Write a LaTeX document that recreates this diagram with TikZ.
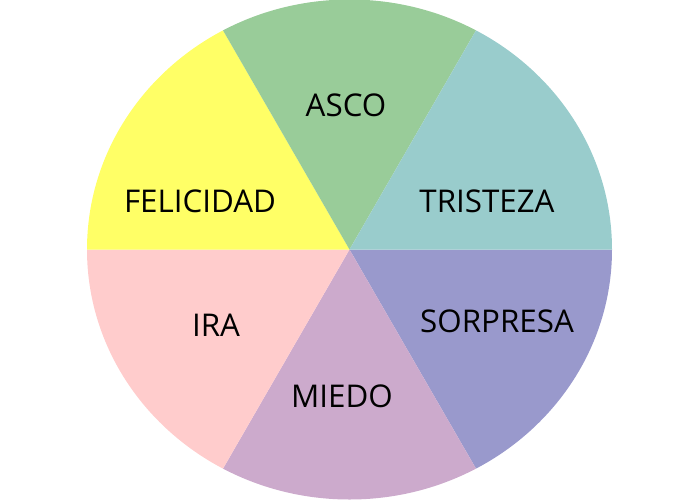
\documentclass[tikz,border=0pt]{standalone}
\usepackage{fontspec}
\setmainfont{Open Sans}
\definecolor{cyellow}{HTML}{FFFF66}
\definecolor{cgreen}{HTML}{99CC99}
\definecolor{cteal}{HTML}{99CCCC}
\definecolor{cblue}{HTML}{9999CC}
\definecolor{cmauve}{HTML}{CCAACC}
\definecolor{cpink}{HTML}{FFCCCC}
\tikzset{lbl/.style={font=\fontsize{23.5}{26}\selectfont, text=black, inner sep=0pt}}
\begin{document}
\begin{tikzpicture}[x=0.75pt,y=-0.75pt]
\useasboundingbox (0,0) rectangle (700,500);
\coordinate (c) at (349.5,249.5);
\begin{scope}
\clip (c) ellipse [x radius=262.5, y radius=250];
\fill[cblue]  (c) -- +(0:600)   -- +(60:600)  -- cycle;
\fill[cmauve] (c) -- +(60:600)  -- +(120:600) -- cycle;
\fill[cpink]  (c) -- +(120:600) -- +(180:600) -- cycle;
\fill[cyellow](c) -- +(180:600) -- +(240:600) -- cycle;
\fill[cgreen] (c) -- +(240:600) -- +(300:600) -- cycle;
\fill[cteal]  (c) -- +(300:600) -- +(360:600) -- cycle;
\end{scope}
\node[lbl] (asco) at (346,105) {ASCO};
\node[lbl] (tristeza) at (487,201) {TRISTEZA};
\node[lbl] (felicidad) at (200,201) {FELICIDAD};
\node[lbl] (ira) at (216,325) {IRA};
\node[lbl] (sorpresa) at (497,321) {SORPRESA};
\node[lbl] (miedo) at (342,396) {MIEDO};
\end{tikzpicture}
\end{document}
